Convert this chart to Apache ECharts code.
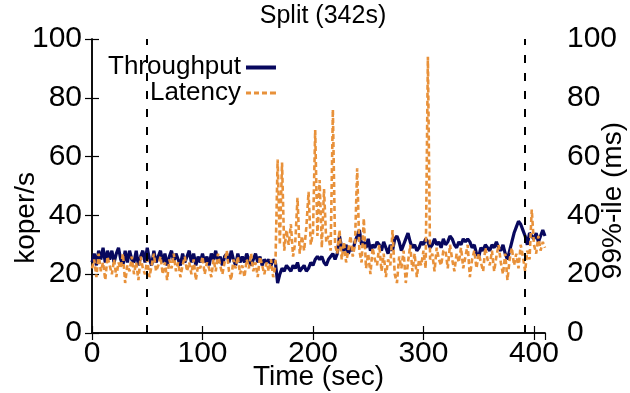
<!DOCTYPE html>
<html>
<head>
<meta charset="utf-8">
<script src="https://cdn.jsdelivr.net/npm/echarts@6/dist/echarts.min.js"></script>
<style>html,body{margin:0;padding:0;background:#fff}#c{width:630px;height:393px}</style>
</head>
<body>
<div id="c"></div>
<script>
// sampling step of the time axis (seconds)
const sampleStep = 2;
// events (vertical dashed markers), seconds
const eventTimes = [50, 392];
const xTicks = [0, 100, 200, 300, 400];
const yTicks = [0, 20, 40, 60, 80, 100];

// Throughput (koper/s), every 2 s from t=0
const throughput = [
  24,27,23,28,25,29,24,28,25,28,
  24,27,29,25,23,28,24,28,25,24,
  28,23,26,28,24,29,25,23,28,24,
  26,28,24,27,23,26,28,24,27,25,
  23,27,24,26,28,24,27,23,26,24,
  27,24,26,23,27,25,28,24,26,23,
  26,27,24,28,25,23,27,24,26,24,
  27,25,23,25,27,24,26,23,25,24,
  25,23,25,24,17,20,22,21,23,22,
  21,23,22,24,21,22,23,21,22,24,
  23,25,26,25,26,24,23,25,26,27,
  25,27,33,29,28,30,27,29,28,31,
  33,35,30,31,29,32,28,30,29,31,
  30,28,31,29,27,30,28,32,33,31,
  28,30,32,34,31,29,30,28,29,31,
  30,32,31,29,30,32,30,31,29,32,
  30,31,33,32,30,29,31,30,32,31,
  32,31,29,30,27,26,29,28,30,29,
  28,30,29,31,29,28,30,27,25,28,
  31,34,36,38,37,35,33,30,34,33,
  32,34,31,33,35,33
];

// Latency 99%-ile (ms), every 2 s from t=0
const latency = [
  22,25,19,27,21,24,18,26,23,20,
  25,19,24,22,27,17,23,21,26,20,
  24,18,26,22,20,25,19,23,27,21,
  23,26,20,24,18,25,22,27,21,24,
  19,23,26,21,24,20,25,18,23,22,
  26,20,24,22,19,25,21,27,23,20,
  24,28,21,18,25,22,26,20,23,19,
  25,22,27,21,24,19,26,23,20,24,
  21,25,19,23,59,30,58,28,35,30,
  37,26,31,46,27,33,28,36,48,30,
  34,69,33,52,29,49,31,33,28,76,
  30,27,35,25,31,24,28,33,26,30,
  56,28,24,39,22,27,20,29,25,23,
  30,21,27,19,25,23,35,20,17,26,
  22,28,17,24,30,21,27,19,25,23,
  28,22,94,25,27,21,29,25,23,28,
  28,22,30,25,21,27,24,29,22,26,
  30,19,25,28,22,27,24,21,29,25,
  23,28,21,26,30,24,20,27,18,25,
  29,23,27,22,30,26,21,28,25,42,
  30,27,33,28,31,29
];

const times = throughput.map((_, i) => i * sampleStep);
const thrData = times.map((t, i) => [t, throughput[i]]);
const latData = times.map((t, i) => [t, latency[i]]);

const FONT = 'Liberation Sans';
const NAVY = '#08085e';
const ORANGE = '#e8913a';
const TICK_FS = 30;

const chart = echarts.init(document.getElementById('c'), null, {renderer: 'canvas'});
const axisLineStyle = {color: '#000', width: 1.5};
const tickStyle = {show: true, inside: true, length: 7, lineStyle: {color: '#000', width: 1.2}};
chart.setOption({
  animation: false,
  backgroundColor: '#fff',
  textStyle: {fontFamily: FONT, color: '#000'},
  title: {
    text: 'Split (342s)', left: 318, top: -1, textAlign: 'center',
    textStyle: {fontFamily: FONT, fontSize: 25, fontWeight: 'normal', color: '#000'}
  },
  grid: {left: 92, right: 85, top: 39, bottom: 60, containLabel: false, outerBoundsMode: 'none'},
  legend: {
    orient: 'vertical', align: 'right', left: 103, top: 49,
    itemWidth: 30, itemHeight: 14, itemGap: 0,
    textStyle: {fontFamily: FONT, fontSize: 26, color: '#000', lineHeight: 26},
    data: [
      {name: 'Throughput', icon: 'path://M0,5.5h30v4h-30z M0,0h0.01v0.01h-0.01z M0,14h0.01v0.01h-0.01z'},
      {name: 'Latency', icon: 'path://M0,5.5h5v3h-5z M8,5.5h5v3h-5z M16,5.5h5v3h-5z M24,5.5h6v3h-6z M0,0h0.01v0.01h-0.01z M0,14h0.01v0.01h-0.01z'}
    ]
  },
  xAxis: [{
    type: 'value', min: 0, max: 410, interval: 100, position: 'bottom',
    name: 'Time (sec)', nameLocation: 'middle', nameGap: 30, nameMoveOverlap: false,
    nameTextStyle: {fontFamily: FONT, fontSize: 28, color: '#000'},
    axisLine: {show: true, lineStyle: axisLineStyle},
    axisTick: tickStyle,
    axisLabel: {fontFamily: FONT, fontSize: TICK_FS, color: '#000', margin: 6, showMaxLabel: false,
      formatter: v => xTicks.includes(v) ? String(v) : ''},
    splitLine: {show: false}
  }, {
    type: 'value', min: 0, max: 410, interval: 100, position: 'top',
    axisLine: {show: true, lineStyle: axisLineStyle},
    axisTick: tickStyle,
    axisLabel: {show: false}, splitLine: {show: false}
  }],
  yAxis: [{
    type: 'value', min: 0, max: 100, interval: 20, position: 'left',
    axisLine: {show: true, lineStyle: axisLineStyle},
    axisTick: tickStyle,
    axisLabel: {fontFamily: FONT, fontSize: TICK_FS, color: '#000', margin: 10,
      formatter: v => yTicks.includes(v) ? String(v) : ''},
    splitLine: {show: false}
  }, {
    type: 'value', min: 0, max: 100, interval: 20, position: 'right',
    axisLine: {show: true, lineStyle: axisLineStyle},
    axisTick: tickStyle,
    axisLabel: {fontFamily: FONT, fontSize: TICK_FS, color: '#000', margin: 22,
      formatter: v => yTicks.includes(v) ? String(v) : ''},
    splitLine: {show: false}
  }],
  graphic: [{
    type: 'text', left: 12, top: 172, rotation: Math.PI / 2,
    style: {text: 'koper/s', font: '28px "Liberation Sans"', fill: '#000'}
  }, {
    type: 'text', left: 599, top: 122, rotation: Math.PI / 2,
    style: {text: '99%-ile (ms)', font: '28px "Liberation Sans"', fill: '#000'}
  }],
  series: [{
    name: 'Throughput', type: 'line', xAxisIndex: 0, yAxisIndex: 0,
    data: thrData, showSymbol: false, symbol: 'none', z: 3,
    lineStyle: {color: NAVY, width: 3.2}, itemStyle: {color: NAVY},
    markLine: {
      silent: true, symbol: 'none', label: {show: false},
      lineStyle: {color: '#000', type: [8, 10], width: 2},
      data: eventTimes.map(t => ({xAxis: t}))
    }
  }, {
    name: 'Latency', type: 'line', xAxisIndex: 0, yAxisIndex: 1,
    data: latData, showSymbol: false, symbol: 'none', z: 4,
    lineStyle: {color: ORANGE, width: 2.6, type: [5, 3]}, itemStyle: {color: ORANGE}
  }]
});
</script>
</body>
</html>
